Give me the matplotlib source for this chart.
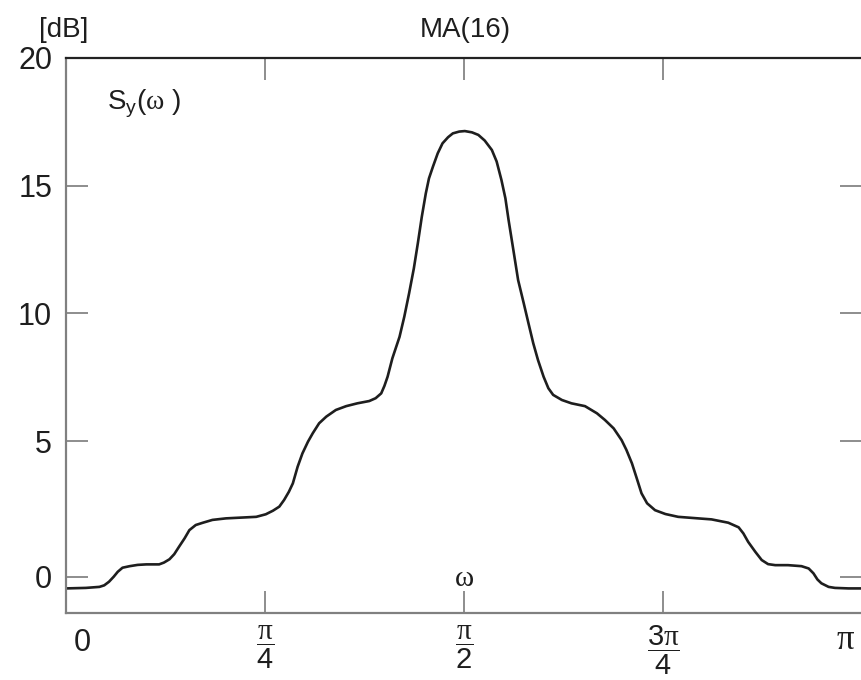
import numpy as np
import matplotlib
matplotlib.use("Agg")
import matplotlib.pyplot as plt
from matplotlib import transforms

plt.rcParams['font.family'] = ['Liberation Sans', 'DejaVu Sans']
plt.rcParams['mathtext.fontset'] = 'custom'
plt.rcParams['mathtext.rm'] = 'Liberation Sans'
plt.rcParams['mathtext.it'] = 'Liberation Sans'
plt.rcParams['mathtext.bf'] = 'Liberation Serif'

# frequency as a fraction of pi, spectrum in dB
omega_frac = [0.000, 0.025, 0.042, 0.048, 0.054, 0.060, 0.065, 0.071, 0.080, 0.090,
              0.101, 0.117, 0.123, 0.130, 0.136, 0.142, 0.149, 0.155, 0.163, 0.172,
              0.184, 0.201, 0.239, 0.251, 0.260, 0.268, 0.274, 0.280, 0.285, 0.291,
              0.297, 0.304, 0.310, 0.318, 0.327, 0.339, 0.352, 0.366, 0.381, 0.389,
              0.396, 0.400, 0.404, 0.410, 0.419, 0.425, 0.431, 0.437, 0.442, 0.447,
              0.452, 0.456, 0.461, 0.467, 0.473, 0.480, 0.486, 0.494, 0.501, 0.510,
              0.518, 0.526, 0.535, 0.541, 0.547, 0.552, 0.556, 0.562, 0.568, 0.575,
              0.581, 0.587, 0.593, 0.600, 0.606, 0.612, 0.623, 0.635, 0.652, 0.667,
              0.677, 0.688, 0.698, 0.704, 0.711, 0.717, 0.723, 0.730, 0.740, 0.753,
              0.769, 0.794, 0.811, 0.832, 0.845, 0.851, 0.857, 0.866, 0.874, 0.882,
              0.891, 0.907, 0.924, 0.933, 0.939, 0.944, 0.949, 0.958, 0.966, 0.983,
              1.000]
spectrum_db = [-0.76, -0.74, -0.70, -0.64, -0.50, -0.30, -0.11, 0.05, 0.11, 0.16,
               0.18, 0.18, 0.25, 0.38, 0.58, 0.87, 1.20, 1.52, 1.72, 1.81,
               1.92, 1.98, 2.04, 2.14, 2.28, 2.44, 2.70, 3.02, 3.35, 4.00,
               4.52, 4.98, 5.31, 5.70, 5.96, 6.22, 6.37, 6.48, 6.57, 6.68,
               6.87, 7.16, 7.52, 8.24, 9.08, 9.87, 10.78, 11.76, 12.74, 13.78,
               14.69, 15.28, 15.74, 16.26, 16.65, 16.89, 17.04, 17.11, 17.13, 17.08,
               16.98, 16.76, 16.39, 15.94, 15.22, 14.50, 13.65, 12.48, 11.30, 10.40,
               9.61, 8.83, 8.17, 7.52, 7.07, 6.81, 6.61, 6.48, 6.37, 6.09,
               5.83, 5.50, 5.04, 4.66, 4.13, 3.55, 2.96, 2.57, 2.30, 2.15,
               2.04, 1.98, 1.94, 1.81, 1.63, 1.39, 1.06, 0.67, 0.35, 0.19,
               0.15, 0.15, 0.11, 0.02, -0.17, -0.41, -0.56, -0.70, -0.74, -0.76,
               -0.76]

x_tick_vals = [np.pi / 4, np.pi / 2, 3 * np.pi / 4]
x_tick_labels = [r'$\dfrac{\mathbf{\pi}}{4}$', r'$\dfrac{\mathbf{\pi}}{2}$', r'$\dfrac{3\mathbf{\pi}}{4}$']
y_tick_vals = [-0.3, 5, 10, 15, 20]
y_tick_labels = ['0', '5', '10', '15', '20']

W, H = 862, 680
fig = plt.figure(figsize=(W / 100, H / 100), dpi=100)
ax = fig.add_axes([66 / W, (H - 612.7) / H, (W - 66) / W, (612.7 - 57.7) / H])

omega = np.array(omega_frac) * np.pi
ax.plot(omega, spectrum_db, color='#1e1e1e', lw=1.9,
        solid_capstyle='round', solid_joinstyle='round')

ax.set_xlim(0, np.pi)
ax.set_ylim(-1.71, 20)

ax.set_xticks(x_tick_vals)
ax.set_xticklabels(x_tick_labels)
ax.set_yticks(y_tick_vals)
ax.set_yticklabels(y_tick_labels)

ax.tick_params(axis='both', direction='in', length=16, width=1.2, color='#7a7a7a',
               top=True, right=True)
ax.tick_params(axis='y', labelsize=22, pad=10, labelcolor='#1e1e1e')
ax.tick_params(axis='x', labelsize=21, pad=8, labelcolor='#1e1e1e')

for s in ['left', 'bottom']:
    ax.spines[s].set_color('#808080')
    ax.spines[s].set_linewidth(1.6)
ax.spines['top'].set_color('#222222')
ax.spines['top'].set_linewidth(1.6)
ax.spines['right'].set_visible(False)

trans = transforms.blended_transform_factory(ax.transData, ax.transAxes)
ax.annotate('0', xy=(0, 0), xycoords=trans, xytext=(12, -22), textcoords='offset points',
            fontsize=22, ha='center', va='center', color='#1e1e1e')
ax.annotate(r'$\mathbf{\pi}$', xy=(np.pi, 0), xycoords=trans, xytext=(-12, -19),
            textcoords='offset points', fontsize=25, ha='center', va='center', color='#1e1e1e')
ax.annotate(r'$\mathbf{\omega}$', xy=(np.pi / 2, 0), xycoords=trans, xytext=(0, 25),
            textcoords='offset points', fontsize=21, ha='center', va='center', color='#1e1e1e')

fig.text(64 / W, 1 - 30 / H, '[dB]', fontsize=20, ha='center', va='center', color='#1e1e1e')
fig.text(465 / W, 1 - 30 / H, 'MA(16)', fontsize=20, ha='center', va='center', color='#1e1e1e')
fig.text(107 / W, 1 - 104 / H, r'S$_\mathrm{y}$($\mathbf{\omega}$ )', fontsize=20,
         ha='left', va='center', color='#1e1e1e')

fig.savefig('out.png', dpi=100)
